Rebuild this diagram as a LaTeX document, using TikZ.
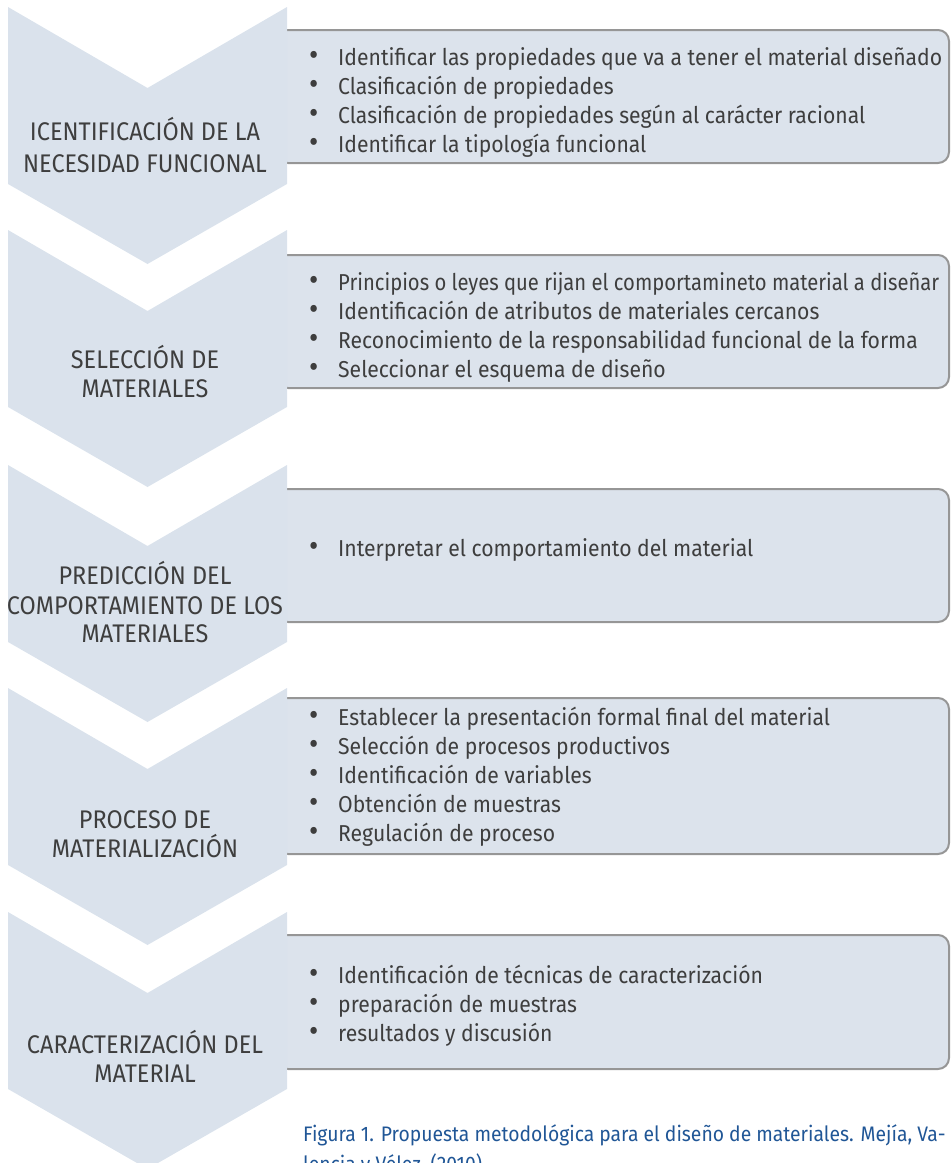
\documentclass[tikz,border=0pt]{standalone}
\usepackage{fontspec}
\setmainfont[FakeStretch=0.92]{Fira Sans}
\usepackage{graphicx}
\definecolor{chev}{RGB}{218,226,236}
\definecolor{panelfill}{RGB}{220,227,236}
\definecolor{panelline}{RGB}{150,150,150}
\definecolor{ink}{RGB}{62,62,62}
\definecolor{capblue}{RGB}{32,86,150}
\newcommand\bulletline[3]{\node[item] (#1) at (309,#2) {\makebox[29pt][l]{\scalebox{1.35}{\textbullet}}#3};}
\begin{document}
\begin{tikzpicture}[x=1pt,y=-1pt,
  chevron/.style={fill=chev},
  panel/.style={draw=panelline, line width=2pt, fill=panelfill, rounded corners=11pt,
                minimum width=672pt, inner sep=0pt},
  item/.style={anchor=base west, inner sep=0pt, text=ink, font=\fontsize{23}{29}\selectfont},
  steplabel/.style={anchor=base, inner sep=0pt, text=ink, font=\fontsize{25.5}{30}\selectfont},
  figcaption/.style={anchor=base west, inner sep=0pt, text=capblue, font=\fontsize{21}{30}\selectfont}]
\useasboundingbox (0,0) rectangle (952,1163);
\clip (0,0) rectangle (952,1163);

% content panels (their left ends sit under the chevrons)
\node[panel, minimum height=133pt] (p1) at (613,96.5) {};
\node[panel, minimum height=133pt] (p2) at (613,321.5) {};
\node[panel, minimum height=133pt] (p3) at (613,555.5) {};
\node[panel, minimum height=156pt] (p4) at (613,776) {};
\node[panel, minimum height=134pt] (p5) at (613,1002) {};

% step chevrons
\foreach \t in {7,230,465,688,912}{
  \fill[chevron] (8,\t) -- (147.5,\t+81) -- (287,\t) -- (287,\t+177)
        -- (147.5,\t+257) -- (8,\t+177) -- cycle;
}

% step titles
\node[steplabel] (s1a) at (145,140.5) {ICENTIFICACIÓN DE LA};
\node[steplabel] (s1b) at (145,172) {NECESIDAD FUNCIONAL};
\node[steplabel] (s2a) at (145,368) {SELECCIÓN DE};
\node[steplabel] (s2b) at (145,397) {MATERIALES};
\node[steplabel] (s3a) at (145,584) {PREDICCIÓN DEL};
\node[steplabel] (s3b) at (145,614) {COMPORTAMIENTO DE LOS};
\node[steplabel] (s3c) at (145,642) {MATERIALES};
\node[steplabel] (s4a) at (145,828) {PROCESO DE};
\node[steplabel] (s4b) at (145,857) {MATERIALIZACIÓN};
\node[steplabel] (s5a) at (145,1053) {CARACTERIZACIÓN DEL};
\node[steplabel] (s5b) at (145,1082) {MATERIAL};

% panel items
\bulletline{i1a}{65}{Identificar las propiedades que va a tener el material diseñado}
\bulletline{i1b}{94}{Clasificación de propiedades}
\bulletline{i1c}{123}{Clasificación de propiedades según al carácter racional}
\bulletline{i1d}{152}{Identificar la tipología funcional}

\bulletline{i2a}{290}{\scalebox{0.955}[1]{Principios o leyes que rijan el comportamineto material a diseñar}}
\bulletline{i2b}{319}{Identificación de atributos de materiales cercanos}
\bulletline{i2c}{348}{Reconocimiento de la responsabilidad funcional de la forma}
\bulletline{i2d}{377}{Seleccionar el esquema de diseño}

\bulletline{i3a}{556}{Interpretar el comportamiento del material}

\bulletline{i4a}{725}{Establecer la presentación formal final del material}
\bulletline{i4b}{754}{Selección de procesos productivos}
\bulletline{i4c}{783}{Identificación de variables}
\bulletline{i4d}{812}{Obtención de muestras}
\bulletline{i4e}{841}{Regulación de proceso}

\bulletline{i5a}{983}{Identificación de técnicas de caracterización}
\bulletline{i5b}{1012}{preparación de muestras}
\bulletline{i5c}{1041}{resultados y discusión}

% figure caption
\node[figcaption] (cap1) at (303,1141) {Figura 1. Propuesta metodológica para el diseño de materiales. Mejía, Va-};
\node[figcaption] (cap2) at (303,1171) {lencia y Vélez, (2010).};
\end{tikzpicture}
\end{document}
